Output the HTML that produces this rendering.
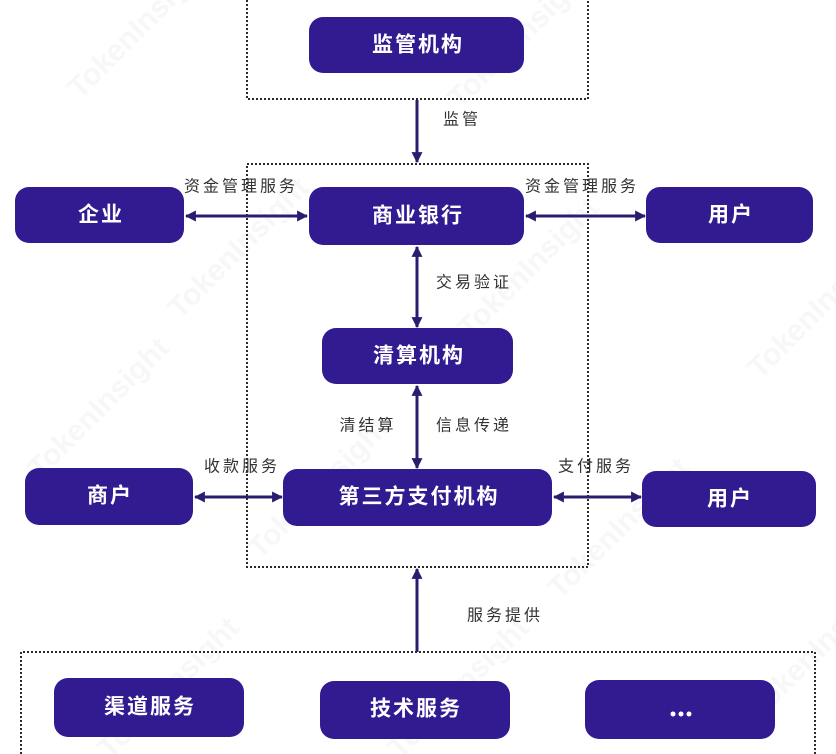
<!DOCTYPE html>
<html><head><meta charset="utf-8"><style>
html,body{margin:0;padding:0;background:#fff;}
body{width:836px;height:754px;overflow:hidden;position:relative;}
svg{position:absolute;left:0;top:0;}
.b{font-family:"Liberation Sans","Noto Sans CJK SC",sans-serif;font-weight:700;font-size:21px;fill:#fff;letter-spacing:2px;}
.l{font-family:"Liberation Sans","Noto Sans CJK SC",sans-serif;font-size:16px;fill:#333;letter-spacing:3px;}
.w{font-family:"Liberation Sans",sans-serif;font-weight:700;font-size:30px;fill:#000;opacity:0.035;}
</style></head><body>
<svg width="836" height="754" viewBox="0 0 836 754" xmlns="http://www.w3.org/2000/svg">
<defs>
<marker id="ah" viewBox="0 0 10 10" refX="9" refY="5" markerWidth="11" markerHeight="11" markerUnits="userSpaceOnUse" orient="auto-start-reverse">
<path d="M0,0 L10,5 L0,10 z" fill="#2b1c70"/>
</marker>
</defs>
<!-- watermarks -->
<g class="w">
<text transform="translate(80,100) rotate(-45)">TokenInsight</text>
<text transform="translate(460,110) rotate(-45)">TokenInsight</text>
<text transform="translate(180,320) rotate(-45)">TokenInsight</text>
<text transform="translate(470,340) rotate(-45)">TokenInsight</text>
<text transform="translate(760,380) rotate(-45)">TokenInsight</text>
<text transform="translate(40,480) rotate(-45)">TokenInsight</text>
<text transform="translate(260,560) rotate(-45)">TokenInsight</text>
<text transform="translate(560,600) rotate(-45)">TokenInsight</text>
<text transform="translate(110,760) rotate(-45)">TokenInsight</text>
<text transform="translate(400,760) rotate(-45)">TokenInsight</text>
<text transform="translate(760,720) rotate(-45)">TokenInsight</text>
</g>
<!-- dotted boxes -->
<g fill="none" stroke="#2a2a2a" stroke-width="2" stroke-dasharray="2 2">
<path d="M247,0 L247,99 L588,99 L588,0"/>
<rect x="247" y="164" width="341" height="403"/>
<path d="M21,754 L21,652 L815,652 L815,754"/>
</g>
<!-- arrows -->
<g stroke="#2b1c70" stroke-width="3" fill="none">
<line x1="417" y1="100" x2="417" y2="162" marker-end="url(#ah)"/>
<line x1="186" y1="216" x2="307" y2="216" marker-start="url(#ah)" marker-end="url(#ah)"/>
<line x1="526" y1="216" x2="645" y2="216" marker-start="url(#ah)" marker-end="url(#ah)"/>
<line x1="417" y1="247" x2="417" y2="327" marker-start="url(#ah)" marker-end="url(#ah)"/>
<line x1="417" y1="386" x2="417" y2="468" marker-start="url(#ah)" marker-end="url(#ah)"/>
<line x1="195" y1="497" x2="282" y2="497" marker-start="url(#ah)" marker-end="url(#ah)"/>
<line x1="554" y1="497" x2="641" y2="497" marker-start="url(#ah)" marker-end="url(#ah)"/>
<line x1="417" y1="652" x2="417" y2="569" marker-end="url(#ah)"/>
</g>
<!-- boxes -->
<g fill="#321b91">
<rect x="309" y="17" width="215" height="56" rx="14"/>
<rect x="309" y="187" width="215" height="58" rx="14"/>
<rect x="15" y="187" width="169" height="56" rx="14"/>
<rect x="646" y="187" width="167" height="56" rx="14"/>
<rect x="322" y="328" width="191" height="56" rx="14"/>
<rect x="25" y="468" width="168" height="57" rx="14"/>
<rect x="283" y="469" width="269" height="57" rx="14"/>
<rect x="642" y="471" width="174" height="56" rx="14"/>
<rect x="54" y="678" width="190" height="59" rx="14"/>
<rect x="320" y="681" width="190" height="58" rx="14"/>
<rect x="585" y="680" width="190" height="59" rx="14"/>
</g>
<g class="b" text-anchor="middle" dominant-baseline="central">
<text x="418" y="45">监管机构</text>
<text x="418" y="216">商业银行</text>
<text x="101" y="215">企业</text>
<text x="731" y="215">用户</text>
<text x="419" y="356">清算机构</text>
<text x="110" y="496">商户</text>
<text x="419" y="497">第三方支付机构</text>
<text x="730" y="499">用户</text>
<text x="150" y="707">渠道服务</text>
<text x="416" y="709">技术服务</text>
</g>
<g fill="#fff">
<circle cx="673" cy="714" r="2.5"/>
<circle cx="681" cy="714" r="2.5"/>
<circle cx="689" cy="714" r="2.5"/>
</g>
<g class="l" text-anchor="middle" dominant-baseline="central">
<text x="462" y="120">监管</text>
<text x="241" y="187">资金管理服务</text>
<text x="582" y="187">资金管理服务</text>
<text x="474" y="283">交易验证</text>
<text x="368" y="426">清结算</text>
<text x="474" y="426">信息传递</text>
<text x="242" y="467">收款服务</text>
<text x="596" y="467">支付服务</text>
<text x="505" y="616">服务提供</text>
</g>
</svg>
</body></html>
